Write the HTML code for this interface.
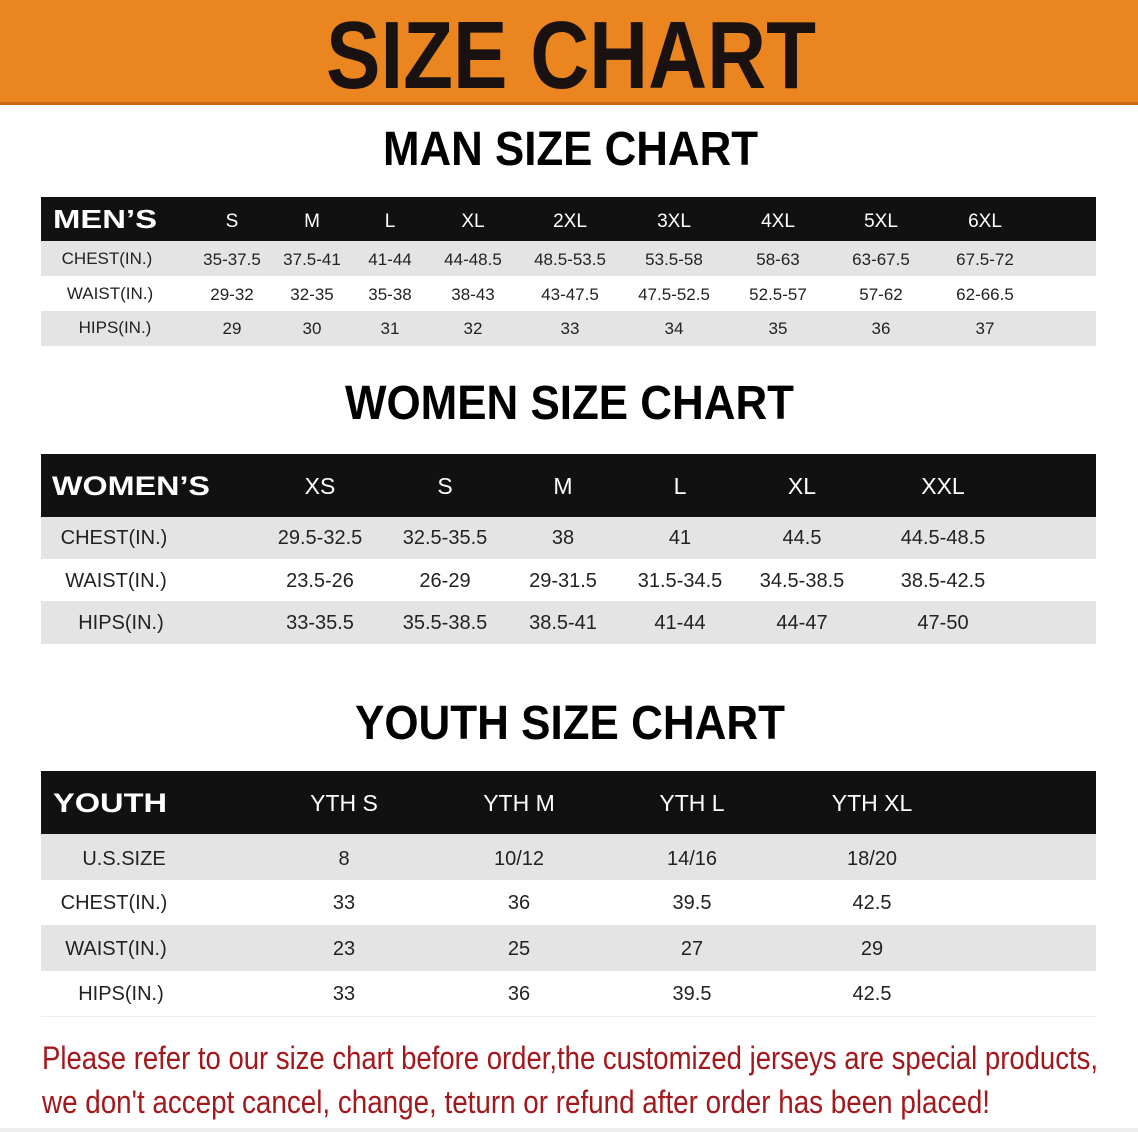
<!DOCTYPE html>
<html><head><meta charset="utf-8"><style>html,body{margin:0;padding:0;background:#fff}svg{display:block}</style></head><body>
<svg width="1138" height="1132" viewBox="0 0 1138 1132" xmlns="http://www.w3.org/2000/svg" font-family="Liberation Sans, sans-serif">
<rect x="0" y="0" width="1138" height="104" fill="#ea851f"/>
<rect x="0" y="102" width="1138" height="3" fill="#c96a18"/>
<text x="326" y="88" font-size="96" font-weight="bold" fill="#1a1210" textLength="490" lengthAdjust="spacingAndGlyphs">SIZE CHART</text>
<text x="383" y="165" font-size="48" font-weight="bold" fill="#000" textLength="375" lengthAdjust="spacingAndGlyphs">MAN SIZE CHART</text>
<text x="345" y="419" font-size="48" font-weight="bold" fill="#000" textLength="449" lengthAdjust="spacingAndGlyphs">WOMEN SIZE CHART</text>
<text x="355" y="739" font-size="48" font-weight="bold" fill="#000" textLength="430" lengthAdjust="spacingAndGlyphs">YOUTH SIZE CHART</text>

<!-- MEN -->
<rect x="41" y="197" width="1055" height="44" fill="#111"/>
<rect x="41" y="241" width="1055" height="35" fill="#e4e4e4"/>
<rect x="41" y="311" width="1055" height="35" fill="#e4e4e4"/>
<g font-size="19" fill="#fff" text-anchor="middle">
<text x="105" y="228" font-size="26" font-weight="bold" text-anchor="middle" textLength="104" lengthAdjust="spacingAndGlyphs">MEN’S</text>
<text x="232" y="227">S</text><text x="312" y="227">M</text><text x="390" y="227">L</text><text x="473" y="227">XL</text><text x="570" y="227">2XL</text><text x="674" y="227">3XL</text><text x="778" y="227">4XL</text><text x="881" y="227">5XL</text><text x="985" y="227">6XL</text>
</g>
<g font-size="17" fill="#222" text-anchor="middle">
<text x="107" y="264">CHEST(IN.)</text><text x="232" y="265">35-37.5</text><text x="312" y="265">37.5-41</text><text x="390" y="265">41-44</text><text x="473" y="265">44-48.5</text><text x="570" y="265">48.5-53.5</text><text x="674" y="265">53.5-58</text><text x="778" y="265">58-63</text><text x="881" y="265">63-67.5</text><text x="985" y="265">67.5-72</text>
<text x="110" y="299">WAIST(IN.)</text><text x="232" y="300">29-32</text><text x="312" y="300">32-35</text><text x="390" y="300">35-38</text><text x="473" y="300">38-43</text><text x="570" y="300">43-47.5</text><text x="674" y="300">47.5-52.5</text><text x="778" y="300">52.5-57</text><text x="881" y="300">57-62</text><text x="985" y="300">62-66.5</text>
<text x="115" y="333">HIPS(IN.)</text><text x="232" y="334">29</text><text x="312" y="334">30</text><text x="390" y="334">31</text><text x="473" y="334">32</text><text x="570" y="334">33</text><text x="674" y="334">34</text><text x="778" y="334">35</text><text x="881" y="334">36</text><text x="985" y="334">37</text>
</g>

<!-- WOMEN -->
<rect x="41" y="454" width="1055" height="63" fill="#111"/>
<rect x="41" y="517" width="1055" height="42" fill="#e4e4e4"/>
<rect x="41" y="601" width="1055" height="43" fill="#e4e4e4"/>
<g font-size="23" fill="#fff" text-anchor="middle">
<text x="131" y="495" font-size="27" font-weight="bold" textLength="158" lengthAdjust="spacingAndGlyphs">WOMEN’S</text>
<text x="320" y="494">XS</text><text x="445" y="494">S</text><text x="563" y="494">M</text><text x="680" y="494">L</text><text x="802" y="494">XL</text><text x="943" y="494">XXL</text>
</g>
<g font-size="20" fill="#222" text-anchor="middle">
<text x="114" y="544">CHEST(IN.)</text><text x="320" y="544">29.5-32.5</text><text x="445" y="544">32.5-35.5</text><text x="563" y="544">38</text><text x="680" y="544">41</text><text x="802" y="544">44.5</text><text x="943" y="544">44.5-48.5</text>
<text x="116" y="587">WAIST(IN.)</text><text x="320" y="587">23.5-26</text><text x="445" y="587">26-29</text><text x="563" y="587">29-31.5</text><text x="680" y="587">31.5-34.5</text><text x="802" y="587">34.5-38.5</text><text x="943" y="587">38.5-42.5</text>
<text x="121" y="629">HIPS(IN.)</text><text x="320" y="629">33-35.5</text><text x="445" y="629">35.5-38.5</text><text x="563" y="629">38.5-41</text><text x="680" y="629">41-44</text><text x="802" y="629">44-47</text><text x="943" y="629">47-50</text>
</g>

<!-- YOUTH -->
<rect x="41" y="771" width="1055" height="63" fill="#111"/>
<rect x="41" y="834" width="1055" height="46" fill="#e4e4e4"/>
<rect x="41" y="925" width="1055" height="46" fill="#e4e4e4"/>
<rect x="41" y="1016" width="1055" height="1" fill="#eee"/>
<g font-size="23" fill="#fff" text-anchor="middle">
<text x="110" y="812" font-size="27" font-weight="bold" textLength="114" lengthAdjust="spacingAndGlyphs">YOUTH</text>
<text x="344" y="811">YTH S</text><text x="519" y="811">YTH M</text><text x="692" y="811">YTH L</text><text x="872" y="811">YTH XL</text>
</g>
<g font-size="20" fill="#222" text-anchor="middle">
<text x="124" y="865">U.S.SIZE</text><text x="344" y="865">8</text><text x="519" y="865">10/12</text><text x="692" y="865">14/16</text><text x="872" y="865">18/20</text>
<text x="114" y="909">CHEST(IN.)</text><text x="344" y="909">33</text><text x="519" y="909">36</text><text x="692" y="909">39.5</text><text x="872" y="909">42.5</text>
<text x="116" y="955">WAIST(IN.)</text><text x="344" y="955">23</text><text x="519" y="955">25</text><text x="692" y="955">27</text><text x="872" y="955">29</text>
<text x="121" y="1000">HIPS(IN.)</text><text x="344" y="1000">33</text><text x="519" y="1000">36</text><text x="692" y="1000">39.5</text><text x="872" y="1000">42.5</text>
</g>

<g font-size="32" fill="#a3181c">
<text x="42" y="1069" textLength="1056" lengthAdjust="spacingAndGlyphs">Please refer to our size chart before order,the customized jerseys are special products,</text>
<text x="42" y="1113" textLength="948" lengthAdjust="spacingAndGlyphs">we don't accept cancel, change, teturn or refund after order has been placed!</text>
</g>
<rect x="0" y="1128" width="1138" height="4" fill="#eee"/>
</svg>
</body></html>
